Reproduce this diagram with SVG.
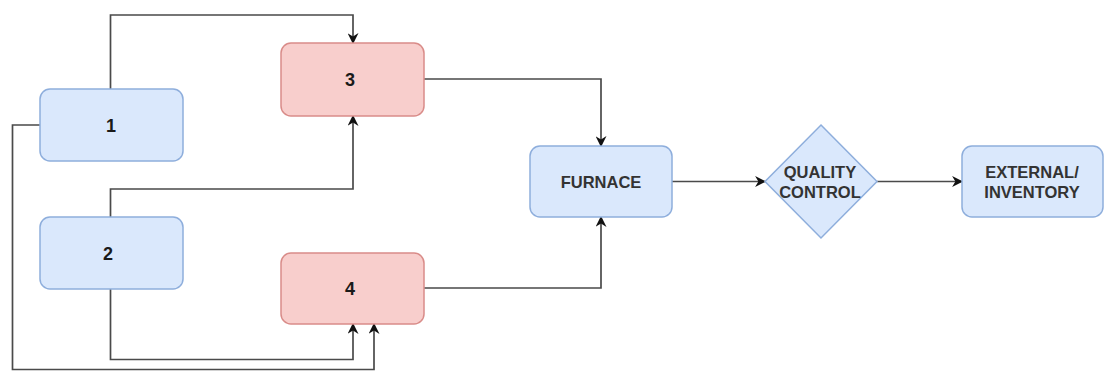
<svg xmlns="http://www.w3.org/2000/svg" width="1104" height="371" viewBox="0 0 1104 371">
<style>
.blue{fill:#dae8fc;stroke:#8eaedc;stroke-width:1.5}
.red{fill:#f8cecc;stroke:#d98c89;stroke-width:1.5}
.lbl{font-family:"Liberation Sans",Arial,sans-serif;font-weight:bold;font-size:18px;fill:#1a1a1a;text-anchor:middle}
.txt{font-family:"Liberation Sans",Arial,sans-serif;font-weight:bold;font-size:16.5px;fill:#333;text-anchor:middle}
.edge{fill:none;stroke:#4a4a4a;stroke-width:1.7}
</style>
<defs>
<marker id="arr" viewBox="0 0 10 10" refX="9" refY="5" markerWidth="11" markerHeight="11" markerUnits="userSpaceOnUse" orient="auto">
<path d="M0,0 L10,5 L0,10 L3,5 z" fill="#111"/>
</marker>
</defs>
<rect width="1104" height="371" fill="#fff"/>
<g id="connectors">
<path class="edge" d="M110.5,89 V15 H353 V43" marker-end="url(#arr)"/>
<path class="edge" d="M110.5,217 V189 H353 V116" marker-end="url(#arr)"/>
<path class="edge" d="M40,125 H12.5 V369.5 H374 V324" marker-end="url(#arr)"/>
<path class="edge" d="M110.5,289 V359.5 H353 V324" marker-end="url(#arr)"/>
<path class="edge" d="M424,79 H601 V146" marker-end="url(#arr)"/>
<path class="edge" d="M424,288 H601 V217" marker-end="url(#arr)"/>
<path class="edge" d="M672,181.5 H765" marker-end="url(#arr)"/>
<path class="edge" d="M877,181.5 H962" marker-end="url(#arr)"/>
</g>
<g id="node1">
<rect class="blue" x="40" y="89" width="143" height="72" rx="10"/>
<text class="lbl" x="111" y="131.5">1</text>
</g>
<g id="node2">
<rect class="blue" x="40" y="217" width="143" height="72" rx="10"/>
<text class="lbl" x="108" y="259.5">2</text>
</g>
<g id="node3">
<rect class="red" x="281" y="43" width="143" height="73" rx="10"/>
<text class="lbl" x="350" y="85.5">3</text>
</g>
<g id="node4">
<rect class="red" x="281" y="253" width="143" height="71" rx="10"/>
<text class="lbl" x="350" y="294.5">4</text>
</g>
<g id="furnace">
<rect class="blue" x="530" y="146" width="142" height="71" rx="10"/>
<text class="txt" x="601" y="188">FURNACE</text>
</g>
<g id="quality">
<path class="blue" d="M821,125 L877,181.5 L821,238 L765,181.5 Z"/>
<text class="txt" x="820" y="178">QUALITY</text>
<text class="txt" x="820" y="198">CONTROL</text>
</g>
<g id="external">
<rect class="blue" x="962" y="146" width="141" height="71" rx="10"/>
<text class="txt" x="1032" y="178">EXTERNAL/</text>
<text class="txt" x="1032" y="198">INVENTORY</text>
</g>
</svg>
